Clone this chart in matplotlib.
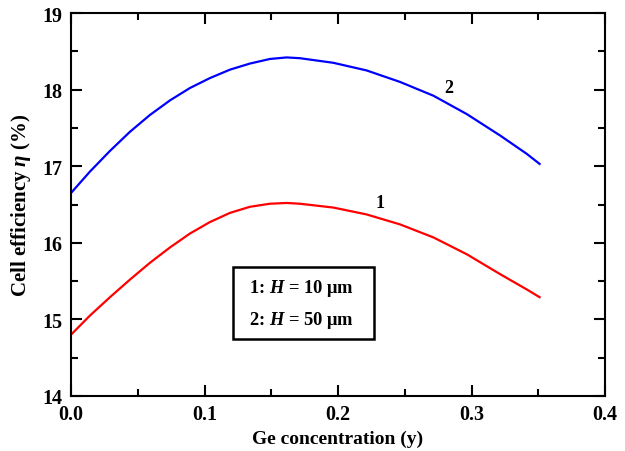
# Rendement de la cellule en fonction de la concentration en Ge
import matplotlib.pyplot as plt
from matplotlib.patches import Rectangle
import numpy as np

plt.rcParams['font.family'] = ['Liberation Serif', 'DejaVu Serif']
plt.rcParams['mathtext.fontset'] = 'custom'
plt.rcParams['mathtext.it'] = 'Liberation Serif:italic:bold'
plt.rcParams['mathtext.rm'] = 'Liberation Serif:bold'

# concentration en Ge
x = np.array([0.0, 0.0142, 0.0292, 0.0442, 0.0592, 0.0742, 0.089, 0.104,
              0.119, 0.134, 0.149, 0.1615, 0.1715, 0.1965, 0.2215,
              0.2465, 0.2715, 0.2965, 0.3215, 0.3415, 0.351])
# courbe 2 : H = 50 um
y2 = np.array([16.65, 16.93, 17.20, 17.45, 17.67, 17.86, 18.02, 18.15,
               18.26, 18.34, 18.40, 18.42, 18.41, 18.35, 18.25,
               18.10, 17.92, 17.68, 17.40, 17.16, 17.03])
# courbe 1 : H = 10 um
y1 = np.array([14.80, 15.05, 15.29, 15.52, 15.74, 15.94, 16.12, 16.27,
               16.39, 16.47, 16.51, 16.52, 16.51, 16.46, 16.37,
               16.24, 16.07, 15.85, 15.59, 15.39, 15.29])

fig = plt.figure(figsize=(6.25, 4.52), dpi=100)
ax = fig.add_axes([0.1136, 0.1217, 0.8544, 0.8473])

ax.plot(x, y2, color='#0000ff', lw=1.6, solid_joinstyle='round')
ax.plot(x, y1, color='#ff0000', lw=1.6, solid_joinstyle='round')

ax.text(0.2826, 18.03, "2", fontsize=13, fontweight='bold', ha='center', va='center')
ax.text(0.2315, 16.52, "1", fontsize=13, fontweight='bold', ha='center', va='center')

# cadre de légende
ax.add_patch(Rectangle((0.1213, 14.74), 0.1056, 0.94, fc='white', ec='black',
                       lw=1.8, zorder=3))
ax.text(0.133, 15.42, "1: $H$ = 10 μm", fontsize=13.3, fontweight='bold',
        ha='left', va='center', zorder=4)
ax.text(0.133, 15.00, "2: $H$ = 50 μm", fontsize=13.3, fontweight='bold',
        ha='left', va='center', zorder=4)

ax.set_xlim(0, 0.4)
ax.set_ylim(14, 19)
ax.set_xticks([0.0, 0.1, 0.2, 0.3, 0.4])
ax.set_xticklabels(["0.0", "0.1", "0.2", "0.3", "0.4"])
ax.set_yticks([14, 15, 16, 17, 18, 19])
ax.set_xticks(np.arange(0.05, 0.4, 0.1), minor=True)
ax.set_yticks(np.arange(14.5, 19, 1.0), minor=True)

for s in ax.spines.values():
    s.set_linewidth(1.5)
ax.tick_params(which='both', direction='in', top=True, right=True, width=1.5,
               labelsize=14.5)
ax.tick_params(which='major', length=8, pad=6)
ax.tick_params(which='minor', length=5)
for lab in ax.get_xticklabels() + ax.get_yticklabels():
    lab.set_fontweight('bold')

ax.set_xlabel("Ge concentration (y)", fontsize=14, fontweight='bold', labelpad=4)
ax.set_ylabel(r"Cell efficiency $\eta$ (%)", fontsize=15, fontweight='bold', labelpad=7)

fig.savefig("out.png", dpi=100)
